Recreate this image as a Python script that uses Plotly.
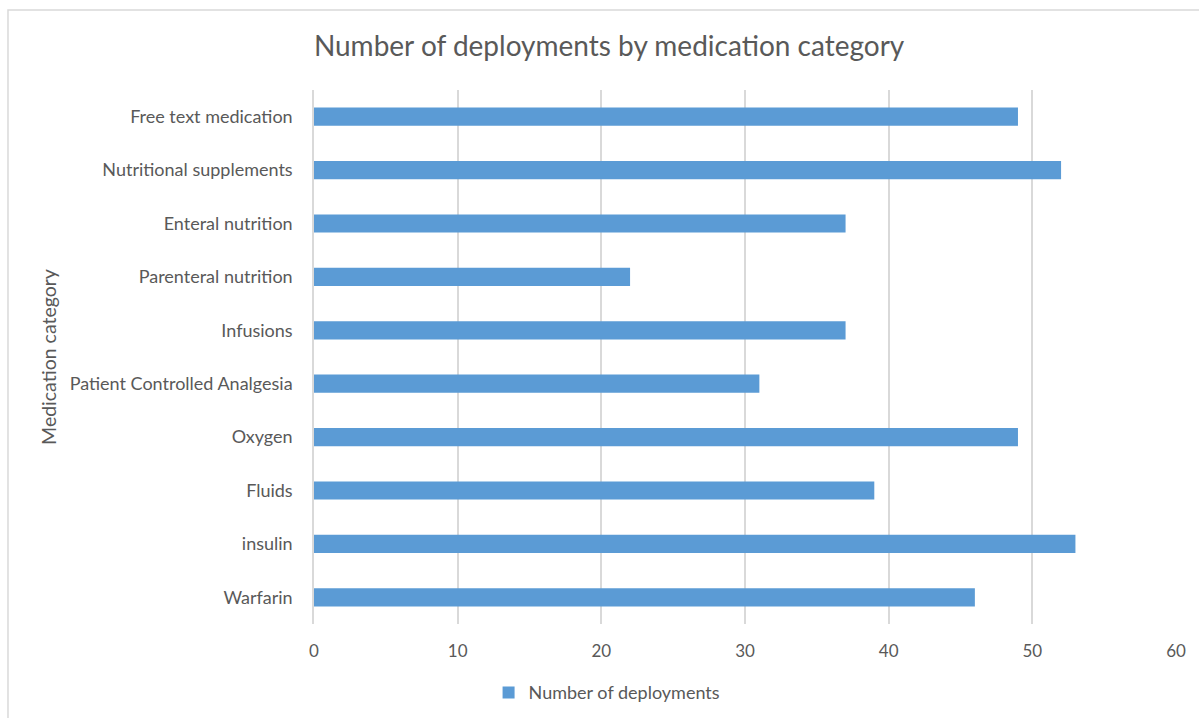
import plotly.graph_objects as go

categories = [
    "Warfarin", "insulin", "Fluids", "Oxygen", "Patient Controlled Analgesia",
    "Infusions", "Parenteral nutrition", "Enteral nutrition",
    "Nutritional supplements", "Free text medication",
]
deployments = [46, 53, 39, 49, 31, 37, 22, 37, 52, 49]
x_ticks = [0, 10, 20, 30, 40, 50, 60]

FONT = "Lato"
TEXT = "#595959"
GRID = "#d9d9d9"
BAR = "#5b9bd5"

fig = go.Figure(
    go.Bar(
        x=deployments,
        y=categories,
        orientation="h",
        width=0.34,
        marker=dict(color=BAR, line=dict(width=0)),
        name="Number of deployments",
        showlegend=True,
    )
)

fig.update_layout(
    width=1199,
    height=718,
    margin=dict(l=314, r=23, t=90, b=94, autoexpand=False),
    paper_bgcolor="white",
    plot_bgcolor="white",
    font=dict(family=FONT, color=TEXT, size=18),
    title=dict(
        text="Number of deployments by medication category",
        x=0.508, xanchor="center", y=0.935, yanchor="middle",
        font=dict(family=FONT, size=28, color=TEXT),
    ),
    xaxis=dict(
        range=[0, 60],
        tickvals=x_ticks,
        showgrid=True,
        gridcolor=GRID,
        gridwidth=1.5,
        zeroline=False,
        showline=False,
        ticks="",
        ticklabelstandoff=15,
        tickfont=dict(size=17, color=TEXT),
    ),
    yaxis=dict(
        categoryorder="array",
        categoryarray=categories,
        range=[-0.5, 9.5],
        showgrid=False,
        showline=True,
        linecolor=GRID,
        linewidth=1.5,
        ticks="",
        ticklabelstandoff=16,
        tickfont=dict(size=18, color=TEXT),
        title=dict(text="Medication category", font=dict(size=19.5, color=TEXT), standoff=8),
    ),
    legend=dict(
        orientation="h",
        x=0.34, xanchor="center",
        y=-0.094, yanchor="top",
        font=dict(size=18, color=TEXT),
        itemwidth=30,
    ),
    shapes=[
        dict(
            type="rect", xref="paper", yref="paper",
            x0=-0.355, x1=1.03, y0=-0.19, y1=1.15,
            line=dict(color=GRID, width=1.5),
            fillcolor="rgba(0,0,0,0)",
            layer="below",
        )
    ],
)

fig.write_html("out.html")
